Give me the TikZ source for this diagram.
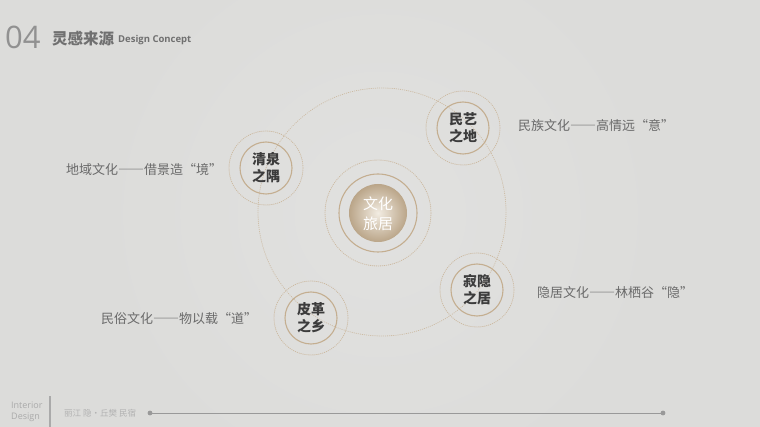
\documentclass[tikz,border=0pt]{standalone}
\usepackage{fontspec}
\setmainfont{Liberation Sans}
\newfontfamily\cjk{Noto Sans CJK SC}
\newfontfamily\cjkfull[CharacterWidth=Full]{Noto Sans CJK SC}
\newfontfamily\lat{Open Sans}
\definecolor{bgc}{HTML}{DCDCDA}
\definecolor{tan}{HTML}{C4AE90}
\definecolor{tanl}{HTML}{CDBBA3}
\definecolor{cream}{HTML}{F2ECE2}
\definecolor{ink}{HTML}{3C3C3C}
\definecolor{lab}{HTML}{6A6A6A}
\definecolor{titc}{HTML}{707070}
\definecolor{foot}{HTML}{AAAAAA}
\tikzset{
  ring/.style={draw=tan, line width=1.1pt, circle, inner sep=0pt},
  dotring/.style={draw=tanl, line width=0.9pt, dash pattern=on 0.5pt off 1.5pt, line cap=round, circle, inner sep=0pt},
  orbit/.style={draw=tanl, line width=0.8pt, dash pattern=on 0.5pt off 1.6pt, line cap=round},
  petal/.style={font=\cjk\bfseries\fontsize{14}{17}\selectfont, text=ink, align=center, inner sep=0pt},
  label/.style={font=\cjkfull\fontsize{13}{15}\selectfont, text=lab, inner sep=0pt},
}
\begin{document}
\begin{tikzpicture}[x=1pt,y=-1pt]
\useasboundingbox (0,0) rectangle (760,427);
\fill[bgc] (0,0) rectangle (760,427);
\shade[inner color=white!30!bgc, outer color=bgc, opacity=0.5] (380,214) circle[radius=300];

% title
\node[anchor=west, font=\lat\fontsize{31}{31}\selectfont, text=foot!85!black, inner sep=0pt] (num) at (5,37) {04};
\node[anchor=west, font=\cjk\bfseries\fontsize{15.5}{16}\selectfont, text=titc, inner sep=0pt] (tit) at (52,39) {灵感来源};
\node[anchor=west, font=\lat\bfseries\fontsize{9.5}{10}\selectfont, text=titc, inner sep=0pt] (sub) at (118,40) {Design Concept};

% orbit
\coordinate (o) at (382,212);
\draw[orbit] (o) circle[radius=124];

% centre
\shade[inner color=cream, outer color=tan!95!black] (378,213) circle[radius=29];
\node[ring, minimum size=78pt] (c0r) at (378,213) {};
\node[dotring, minimum size=106pt] (c0d) at (378,213) {};
\node[font=\cjk\fontsize{15}{20}\selectfont, text=white, align=center, inner sep=0pt] (c0) at (378,214) {文化\\旅居};

% satellites
\foreach \n/\x/\y/\t in {a/266/168/清泉\\之隅, b/463/128/民艺\\之地, c/477/290/寂隐\\之居, d/311/318/皮革\\之乡}{
  \node[ring, minimum size=52pt] (\n r) at (\x,\y) {};
  \node[dotring, minimum size=74pt] (\n d) at (\x,\y) {};
  \node[petal] (\n) at (\x,\y) {\t};
}

% labels
\node[label, anchor=west] (la) at (66,170) {地域文化——借景造“境”};
\node[label, anchor=west] (lb) at (518,126) {民族文化——高情远“意”};
\node[label, anchor=west] (lc) at (537,293) {隐居文化——林栖谷“隐”};
\node[label, anchor=west] (ld) at (101,319) {民俗文化——物以载“道”};

% footer
\node[anchor=west, font=\lat\fontsize{9}{11}\selectfont, text=foot, align=left, inner sep=0pt] (id) at (11,412) {Interior\\Design};
\draw[foot, line width=1.1pt] (50,396) -- (50,427);
\node[anchor=west, font=\cjk\fontsize{8.5}{10}\selectfont, text=foot!90, inner sep=0pt] (proj) at (64,413) {丽江 隐·丘樊 民宿};
\coordinate (f1) at (150,413);
\coordinate (f2) at (663,413);
\draw[foot!90!black, line width=0.6pt] (f1) -- (f2);
\fill[foot!90!black] (f1) circle[radius=2.4];
\fill[foot!90!black] (f2) circle[radius=2.4];
\end{tikzpicture}
\end{document}
